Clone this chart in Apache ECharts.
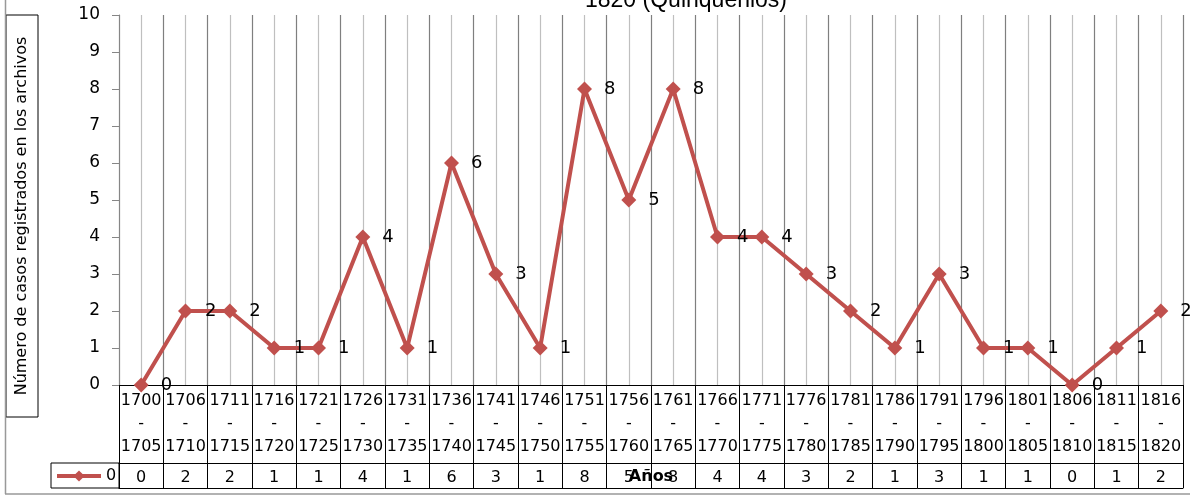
<!DOCTYPE html>
<html>
<head>
<meta charset="utf-8">
<script src="https://cdn.jsdelivr.net/npm/echarts@6/dist/echarts.min.js"></script>
<style>
html,body{margin:0;padding:0;background:#fff;}
#chart{width:1190px;height:496px;}
</style>
</head>
<body>
<div id="chart"></div>
<script>
const titleText = '1820 (Quinquenios)';
const yAxisTitle = 'Número de casos registrados en los archivos';
const xAxisTitle = 'Años';
const seriesName = '0';
const categories = ['1700-1705','1706-1710','1711-1715','1716-1720','1721-1725','1726-1730','1731-1735','1736-1740','1741-1745','1746-1750','1751-1755','1756-1760','1761-1765','1766-1770','1771-1775','1776-1780','1781-1785','1786-1790','1791-1795','1796-1800','1801-1805','1806-1810','1811-1815','1816-1820'];
const values = [0,2,2,1,1,4,1,6,3,1,8,5,8,4,4,3,2,1,3,1,1,0,1,2];
const yTicks = [0,1,2,3,4,5,6,7,8,9,10];

const FONT = 'DejaVu Sans';
const chart = echarts.init(document.getElementById('chart'));
chart.setOption({
  animation: false,
  backgroundColor: '#fff',
  title: {
    text: titleText, left: 580, top: -16,
    textStyle: {fontFamily: 'Liberation Sans', fontSize: 23, fontWeight: 'normal', color: '#000'}
  },
  legend: {
    left: 55, top: 468, padding: 0, itemWidth: 44, itemHeight: 14, itemGap: 4,
    lineStyle: {width: 4, color: '#C0504D'},
    itemStyle: {color: '#C0504D'},
    textStyle: {fontFamily: FONT, fontSize: 16, color: '#000'},
    data: [seriesName]
  },
  grid: {left: 119, right: 7, top: 15, bottom: 111, outerBoundsMode: 'none', containLabel: false},
  xAxis: [
    {
      type: 'category', data: categories, position: 'bottom', boundaryGap: true,
      axisLine: {show: true, lineStyle: {color: '#000', width: 1}},
      axisTick: {show: true, interval: 0, length: 103, lineStyle: {color: '#000'}},
      axisLabel: {
        interval: 0, margin: 4, fontFamily: FONT, fontSize: 16, lineHeight: 23.3, color: '#000',
        formatter: v => v.replace('-', '\n-\n')
      },
      splitLine: {show: false}
    },
    {
      type: 'category', data: categories, position: 'bottom', offset: 78, boundaryGap: true,
      name: xAxisTitle, nameLocation: 'middle', nameGap: 6, nameMoveOverlap: false,
      nameTextStyle: {fontFamily: FONT, fontSize: 16, fontWeight: 'bold', color: '#000'},
      axisLine: {show: true, lineStyle: {color: '#000', width: 1}},
      axisTick: {show: false},
      axisLabel: {
        interval: 0, margin: 7, fontFamily: FONT, fontSize: 16, color: '#000',
        formatter: (v, i) => String(values[i])
      }
    },
    {
      type: 'category', data: categories, position: 'bottom', offset: 103, boundaryGap: true,
      axisLine: {show: true, lineStyle: {color: '#000', width: 1}},
      axisTick: {show: false}, axisLabel: {show: false}
    },
    {
      type: 'value', min: 0, max: 48, interval: 1, position: 'top',
      axisLine: {show: false}, axisTick: {show: false}, axisLabel: {show: false},
      splitLine: {show: true, lineStyle: {color: ['#7f7f7f', '#bfbfbf'], width: 1.2}}
    }
  ],
  yAxis: {
    type: 'value', min: 0, max: 10, interval: 1,
    axisLine: {show: true, lineStyle: {color: '#868686'}},
    axisTick: {show: true, length: 7, lineStyle: {color: '#868686'}},
    axisLabel: {margin: 19, fontFamily: FONT, fontSize: 17, color: '#000',
      formatter: v => yTicks.includes(v) ? String(v) : ''},
    splitLine: {show: false}
  },
  series: [{
    name: seriesName, type: 'line', data: values, xAxisIndex: 0,
    color: '#C0504D',
    lineStyle: {color: '#C0504D', width: 4},
    symbol: 'diamond', symbolSize: 15,
    itemStyle: {color: '#C0504D'},
    label: {show: true, position: 'right', distance: 12, fontFamily: FONT, fontSize: 18, color: '#000'},
    z: 5
  }],
  graphic: [
    {type: 'rect', shape: {x: 6, y: 15, width: 32, height: 402}, style: {fill: 'none', stroke: '#000', lineWidth: 1}},
    {type: 'text', x: 22, y: 216, rotation: Math.PI / 2,
      style: {text: yAxisTitle, fontFamily: FONT, fontSize: 16, fill: '#000', align: 'center', verticalAlign: 'middle'}},
    {type: 'rect', shape: {x: 51, y: 463, width: 68, height: 25}, style: {fill: 'none', stroke: '#000', lineWidth: 1}},
    {type: 'line', shape: {x1: 5.5, y1: 0, x2: 5.5, y2: 494}, style: {stroke: '#999', lineWidth: 1.5}},
    {type: 'line', shape: {x1: 5, y1: 494, x2: 1190, y2: 494}, style: {stroke: '#999', lineWidth: 1.5}}
  ]
});
</script>
</body>
</html>
